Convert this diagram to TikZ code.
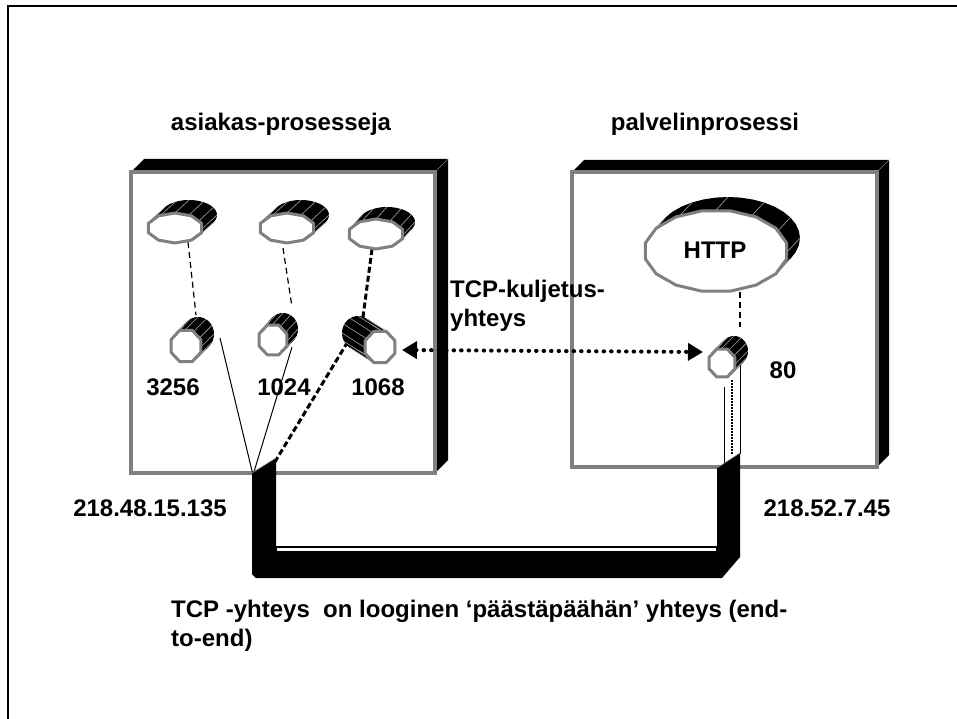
\documentclass[tikz,border=0pt]{standalone}
\usepackage{fontspec}
\setmainfont{Liberation Sans}
\usetikzlibrary{arrows.meta,shapes.geometric,calc}

\tikzset{
  face/.style={fill=white,draw=gray,line width=3pt,line join=round},
  boxface/.style={fill=white,draw=gray,line width=4pt},
  lbl/.style={font=\fontsize{24}{29}\selectfont\bfseries,inner sep=0pt},
  thinln/.style={line width=1pt},
  dashln/.style={line width=1.2pt,dash pattern=on 6pt off 4pt},
  thickdash/.style={line width=3pt,dash pattern=on 6pt off 3pt},
  dotarrow/.style={line width=4pt,dash pattern=on 0.5pt off 7pt,line cap=round,
    {Triangle[length=15pt 0 0,width=17pt 0 0]}-{Triangle[length=15pt 0 0,width=17pt 0 0]}},
}

% name, cx, cy, rx, ry, dx, dy, n
\newcommand\cylshape[8]{%
  \foreach \k in {0,0.05,...,1.001}{
    \fill[black] plot[domain=0:360,samples=37]
      ({#2+\k*(#6)+#4*cos(\x)},{#3+\k*(#7)+#5*sin(\x)}) -- cycle;
  }
  \foreach \a in {0,30,...,330}{
    \draw[gray!70,line width=0.6pt] ({#2+#4*cos(\a)},{#3+#5*sin(\a)}) -- ++(#6,#7);
  }
  \pgfmathsetmacro\cylA{180/#8}
  \pgfmathsetmacro\cylB{360+180/#8}
  \pgfmathtruncatemacro\cylN{#8+1}
  \draw[face] plot[domain=\cylA:\cylB,samples=\cylN]
      ({#2+#4*cos(\x)},{#3+#5*sin(\x)}) -- cycle;
  \coordinate (#1) at (#2,#3);
}

% x0 y0 x1 y1 d
\newcommand\shadowbox[5]{%
  \fill[black] (#1,#2) -- (#1+#5,#2-#5) -- (#3+#5,#2-#5) -- (#3+#5,#4-#5) -- (#3,#4) -- cycle;
  \draw[gray,line width=0.6pt] (#3,#2) -- (#3+#5,#2-#5);
  \draw[boxface] (#1,#2) rectangle (#3,#4);
}

\begin{document}
\begin{tikzpicture}[x=1pt,y=-1pt]
\useasboundingbox (0,0) rectangle (957,719);
\clip (0,0) rectangle (957,719);
\draw[line width=2pt] (8,6) rectangle (975,735);

% boxes
\shadowbox{131}{172}{435}{473}{13}
\shadowbox{572}{172}{877}{467}{12}

% titles
\node[lbl] (t1) at (281,124) {asiakas-prosesseja};
\node[lbl] (t2) at (705,124) {palvelinprosessi};

% endpoint coordinates
\coordinate (A1) at (253,475);
\coordinate (A2) at (270,470);
\coordinate (s1r) at (220,338);
\coordinate (s2b) at (292,347);
\coordinate (s3b) at (347,343);
\coordinate (p1b) at (188,242);
\coordinate (s1t) at (196,315);
\coordinate (p2b) at (283,248);
\coordinate (s2t) at (292,307);
\coordinate (p3b) at (372,249);
\coordinate (s3t) at (363,317);
\coordinate (hb) at (740,292);
\coordinate (s4t) at (740,327);
\coordinate (arL) at (402,350);
\coordinate (arR) at (703,352);
\coordinate (r1t) at (724,387);
\coordinate (r1b) at (724,467);
\coordinate (r2t) at (732,380);
\coordinate (r2b) at (732,454);
\coordinate (r3t) at (740,362);
\coordinate (r3b) at (740,454);

% connectors in the left box
\draw[thinln] (A1) -- (s1r);
\draw[thinln] (A1) -- (s2b);
\draw[thickdash] (A2) -- (s3b);
\draw[dashln] (p1b) -- (s1t);
\draw[dashln] (p2b) -- (s2t);
\draw[thickdash] (p3b) -- (s3t);
\draw[dashln] (hb) -- (s4t);

% right socket lines
\draw[thinln] (r1t) -- (r1b);
\draw[line width=1.5pt,dash pattern=on 1.5pt off 1.5pt] (r2t) -- (r2b);
\draw[thinln] (r3t) -- (r3b);

% cable
\fill[black] (252,473) -- (276,458) -- (276,546) -- (717,546) -- (717,468) -- (740,453)
  -- (740,557) -- (722,578) -- (256,578) -- (252,574) -- cycle;
\draw[gray,line width=0.6pt] (252,473) -- (276,458);
\draw[gray,line width=0.6pt] (717,468) -- (740,453);
\draw[white,line width=3pt] (277,549.5) -- (716,549.5);

% processes
\cylshape{p1}{175}{228}{28}{15}{14}{-13}{10}
\cylshape{p2}{287}{228}{28}{15}{14}{-13}{10}
\cylshape{p3}{376}{234}{28}{15}{11}{-12}{10}
\cylshape{http}{716}{251}{72}{41}{12}{-13}{16}

% sockets
\cylshape{s1}{186}{346}{16}{17}{12}{-12}{8}
\cylshape{s2}{273}{340}{15}{16}{10}{-11}{8}
\cylshape{s3}{380}{347}{16}{17}{-22}{-14}{8}
\cylshape{s4}{722}{363}{14}{15}{12}{-12}{8}

% dotted arrow
\draw[dotarrow] (arL) -- (arR);

% labels
\node[lbl] (l1) at (173,387) {3256};
\node[lbl] (l2) at (284,387) {1024};
\node[lbl] (l3) at (378,387) {1068};
\node[lbl] (l4) at (783,370) {80};
\node[lbl] (lh) at (715,250) {HTTP};
\node[lbl,anchor=west,align=left] (tk) at (450,306) {TCP-kuljetus-\\[0pt]yhteys};
\node[lbl] (ip1) at (150,508) {218.48.15.135};
\node[lbl] (ip2) at (827,508) {218.52.7.45};
\node[lbl,anchor=north west,align=left] (bt) at (171,600)
  {TCP -yhteys\ \ on looginen ‘päästäpäähän’ yhteys (end-\\to-end)};
\end{tikzpicture}
\end{document}
